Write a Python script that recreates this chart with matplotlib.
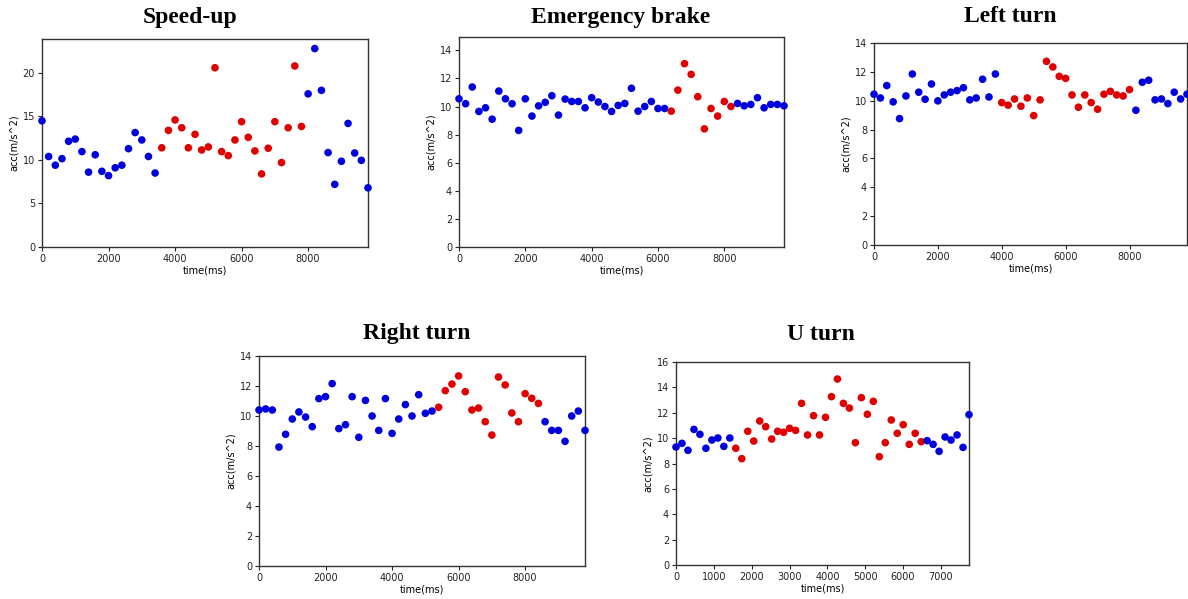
import matplotlib
matplotlib.use("Agg")
import matplotlib.pyplot as plt
import numpy as np

# ---- data (acc in m/s^2, samples every 200 ms) ----
speedup_acc = [14.5, 10.4, 9.4, 10.15, 12.15, 12.4, 10.96, 8.6, 10.6, 8.7,
               8.2, 9.1, 9.4, 11.3, 13.15, 12.3, 10.4, 8.5, 11.4, 13.4,
               14.6, 13.7, 11.4, 12.95, 11.15, 11.5, 20.6, 10.96, 10.5, 12.3,
               14.4, 12.6, 11.04, 8.4, 11.35, 14.4, 9.7, 13.7, 20.8, 13.85,
               17.6, 22.8, 18.0, 10.85, 7.2, 9.85, 14.2, 10.8, 9.96, 6.8]
speedup_red = (18, 39)

brake_acc = [10.55, 10.2, 11.39, 9.65, 9.91, 9.1, 11.1, 10.55, 10.2, 8.3,
             10.55, 9.32, 10.05, 10.3, 10.77, 9.39, 10.53, 10.36, 10.36, 9.91,
             10.63, 10.32, 10.0, 9.65, 10.08, 10.22, 11.3, 9.67, 10.0, 10.36,
             9.86, 9.86, 9.67, 11.17, 13.05, 12.29, 10.7, 8.41, 9.86, 9.32,
             10.36, 10.0, 10.22, 10.05, 10.15, 10.63, 9.91, 10.15, 10.15, 10.05]
brake_red = (32, 41)

left_acc = [10.45, 10.19, 11.05, 9.92, 8.76, 10.33, 11.85, 10.59, 10.1, 11.16,
            9.99, 10.4, 10.59, 10.7, 10.9, 10.06, 10.19, 11.49, 10.26, 11.85,
            9.87, 9.69, 10.12, 9.62, 10.19, 8.97, 10.06, 12.73, 12.34, 11.69,
            11.55, 10.4, 9.55, 10.4, 9.87, 9.41, 10.45, 10.65, 10.4, 10.33,
            10.77, 9.34, 11.28, 11.42, 10.06, 10.12, 9.8, 10.59, 10.12, 10.45]
left_red = (20, 40)

right_acc = [10.4, 10.47, 10.4, 7.93, 8.78, 9.8, 10.27, 9.93, 9.29, 11.16,
             11.29, 12.16, 9.16, 9.42, 11.29, 8.58, 11.04, 10.0, 9.04, 11.16,
             8.84, 9.8, 10.76, 10.0, 11.42, 10.18, 10.33, 10.58, 11.69, 12.13,
             12.67, 11.62, 10.4, 10.53, 9.62, 8.73, 12.6, 12.07, 10.2, 9.62,
             11.49, 11.18, 10.84, 9.62, 9.04, 9.04, 8.31, 10.0, 10.33, 9.04]
right_red = (27, 42)

# U turn samples are closer together (~158 ms)
uturn_acc = [9.3, 9.59, 9.04, 10.69, 10.3, 9.2, 9.85, 10.01, 9.35, 10.01,
             9.2, 8.38, 10.54, 9.77, 11.35, 10.9, 9.93, 10.54, 10.46, 10.77,
             10.61, 12.74, 10.25, 11.77, 10.25, 11.64, 13.27, 14.66, 12.74, 12.37,
             9.64, 13.19, 11.88, 12.9, 8.54, 9.64, 11.43, 10.38, 11.06, 9.51,
             10.38, 9.72, 9.8, 9.51, 8.96, 10.09, 9.85, 10.25, 9.27, 11.85]
uturn_red = (10, 41)

W, H = 1188, 599
fig = plt.figure(figsize=(W / 100, H / 100), dpi=100)


def px_axes(x0, y0, x1, y1):
    # pixel box (top-left origin) -> figure fraction
    return fig.add_axes([x0 / W, 1 - y1 / H, (x1 - x0) / W, (y1 - y0) / H])


def panel(box, title, acc, red, step, ylim, yticks, xticks, title_xy):
    ax = px_axes(*box)
    t = np.arange(len(acc)) * step
    acc = np.array(acc)
    cols = np.array(["#0000dd"] * len(acc), dtype=object)
    cols[red[0]:red[1] + 1] = "#e00000"
    ax.scatter(t, acc, s=30, c=list(cols), linewidths=0, zorder=3, clip_on=False)
    ax.set_xlim(0, t[-1])
    ax.set_ylim(*ylim)
    ax.set_yticks(yticks)
    ax.set_xticks(xticks)
    ax.tick_params(labelsize=7, length=3, width=0.8, pad=2, colors="#222222")
    ax.set_xlabel("time(ms)", fontsize=7, labelpad=1)
    ax.set_ylabel("acc(m/s^2)", fontsize=7, labelpad=3)
    for s in ax.spines.values():
        s.set_color("#333333")
        s.set_linewidth(1.0)
    fig.text(title_xy[0] / W, 1 - title_xy[1] / H, title,
             family="Liberation Serif", fontweight="bold", fontsize=17,
             ha="center", va="center")
    return ax


panel((42, 39, 368, 247), "Speed-up", speedup_acc, speedup_red, 200,
      (0, 23.9), [0, 5, 10, 15, 20], [0, 2000, 4000, 6000, 8000], (190, 17))
panel((459, 37, 784, 247), "Emergency brake", brake_acc, brake_red, 200,
      (0, 14.95), [0, 2, 4, 6, 8, 10, 12, 14], [0, 2000, 4000, 6000, 8000], (621, 17))
panel((874, 43, 1187, 245), "Left turn", left_acc, left_red, 200,
      (0, 14), [0, 2, 4, 6, 8, 10, 12, 14], [0, 2000, 4000, 6000, 8000], (1010, 17))
panel((259, 356, 585, 566), "Right turn", right_acc, right_red, 200,
      (0, 14), [0, 2, 4, 6, 8, 10, 12, 14], [0, 2000, 4000, 6000, 8000], (417, 334))
panel((676, 362, 969, 565), "U turn", uturn_acc, uturn_red, 158,
      (0, 16), [0, 2, 4, 6, 8, 10, 12, 14, 16],
      [0, 1000, 2000, 3000, 4000, 5000, 6000, 7000], (821, 334))

fig.savefig("out.png", dpi=100)
